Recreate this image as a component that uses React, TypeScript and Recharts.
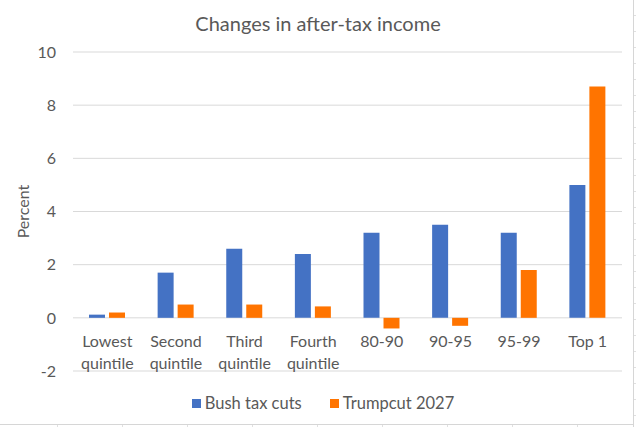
import React from "react";
import {
  BarChart,
  Bar,
  XAxis,
  YAxis,
  CartesianGrid,
  Legend,
} from "recharts";

const categories = [
  "Lowest quintile",
  "Second quintile",
  "Third quintile",
  "Fourth quintile",
  "80-90",
  "90-95",
  "95-99",
  "Top 1",
];
const bushValues = [0.12, 1.7, 2.6, 2.4, 3.2, 3.5, 3.2, 5.0];
const trumpValues = [0.2, 0.5, 0.5, 0.43, -0.4, -0.3, 1.8, 8.7];
const yTicks = [-2, 0, 2, 4, 6, 8, 10];
const seriesNames = ["Bush tax cuts", "Trumpcut 2027"];
const seriesColors = ["#4472C4", "#FF7400"];

const data = categories.map((c, i) => ({
  name: c,
  bush: bushValues[i],
  trump: trumpValues[i],
}));

const FONT = "Lato, 'Open Sans', sans-serif";
const TEXT = "#595959";
const FS = 16;

const CategoryTick = (props: any) => {
  const { x, y, payload } = props;
  const label = String(payload.value);
  const idx = label.indexOf(" quintile");
  const lines =
    idx >= 0 ? [label.slice(0, idx), label.slice(idx + 1)] : [label];
  return (
    <g>
      {lines.map((l, i) => (
        <text
          key={i}
          x={x}
          y={y - 24 + i * 22}
          textAnchor="middle"
          fill={TEXT}
          fontSize={FS}
          fontFamily={FONT}
        >
          {l}
        </text>
      ))}
    </g>
  );
};

const PercentLabel = (props: any) => {
  const vb = props.viewBox || {};
  const cy = (vb.y || 0) + (vb.height || 0) / 2;
  return (
    <text
      x={0}
      y={0}
      transform={`translate(29, ${cy}) rotate(-90)`}
      textAnchor="middle"
      fill={TEXT}
      fontSize={FS}
      fontFamily={FONT}
    >
      Percent
    </text>
  );
};

const LegendContent = () => (
  <div
    style={{
      height: 26,
      width: 636,
      boxSizing: "border-box",
      paddingLeft: 10,
      display: "flex",
      justifyContent: "center",
      alignItems: "center",
      fontFamily: FONT,
      fontSize: 16.5,
      color: TEXT,
    }}
  >
    {seriesNames.map((n, i) => (
      <div
        key={n}
        style={{
          display: "flex",
          alignItems: "center",
          marginLeft: i === 0 ? 0 : 28,
        }}
      >
        <div
          style={{
            width: 9,
            height: 9,
            background: seriesColors[i],
            marginRight: 4,
          }}
        />
        <span>{n}</span>
      </div>
    ))}
  </div>
);

export default function App() {
  return (
    <div
      style={{
        position: "absolute",
        left: 0,
        top: 0,
        width: 636,
        height: 427,
        background: "#fff",
        overflow: "hidden",
      }}
    >
      <div
        style={{
          position: "absolute",
          left: 0,
          top: 10,
          width: 636,
          textAlign: "center",
          fontFamily: FONT,
          fontSize: 20,
          color: TEXT,
          lineHeight: "26px",
        }}
      >
        Changes in after-tax income
      </div>
      <BarChart
        width={636}
        height={427}
        data={data}
        margin={{ top: 52, right: 14, left: 0, bottom: 0 }}
        barSize={16}
        barGap={4}
      >
        <CartesianGrid vertical={false} stroke="#d9d9d9" strokeWidth={1} />
        <XAxis
          dataKey="name"
          axisLine={false}
          tickLine={false}
          tickSize={0}
          tickMargin={0}
          height={30}
          interval={0}
          tick={<CategoryTick />}
        />
        <YAxis
          width={73}
          domain={[-2, 10]}
          ticks={yTicks}
          axisLine={false}
          tickLine={false}
          tickMargin={11}
          tick={{ fill: TEXT, fontSize: FS, fontFamily: FONT }}
          label={<PercentLabel />}
        />
        <Legend
          verticalAlign="bottom"
          content={<LegendContent />}
          wrapperStyle={{ bottom: 11, left: 0, width: 636 }}
        />
        <Bar
          dataKey="bush"
          name={seriesNames[0]}
          fill={seriesColors[0]}
          isAnimationActive={false}
        />
        <Bar
          dataKey="trump"
          name={seriesNames[1]}
          fill={seriesColors[1]}
          isAnimationActive={false}
        />
      </BarChart>
      <div
        style={{
          position: "absolute",
          left: 633,
          top: 0,
          width: 1,
          height: 427,
          background: "#d6d6d6",
        }}
      />
      <div
        style={{
          position: "absolute",
          left: 634,
          top: 0,
          width: 2,
          height: 427,
          background:
            "repeating-linear-gradient(to bottom, transparent 0px, transparent 15px, #e0e0e0 15px, #e0e0e0 16px)",
        }}
      />
      <div
        style={{
          position: "absolute",
          left: 0,
          top: 424,
          width: 634,
          height: 1,
          background: "#d6d6d6",
        }}
      />
      <div
        style={{
          position: "absolute",
          left: 0,
          top: 425,
          width: 634,
          height: 2,
          background:
            "repeating-linear-gradient(to right, transparent 0px, transparent 57px, #e0e0e0 57px, #e0e0e0 58px, transparent 58px, transparent 65px)",
        }}
      />
    </div>
  );
}
